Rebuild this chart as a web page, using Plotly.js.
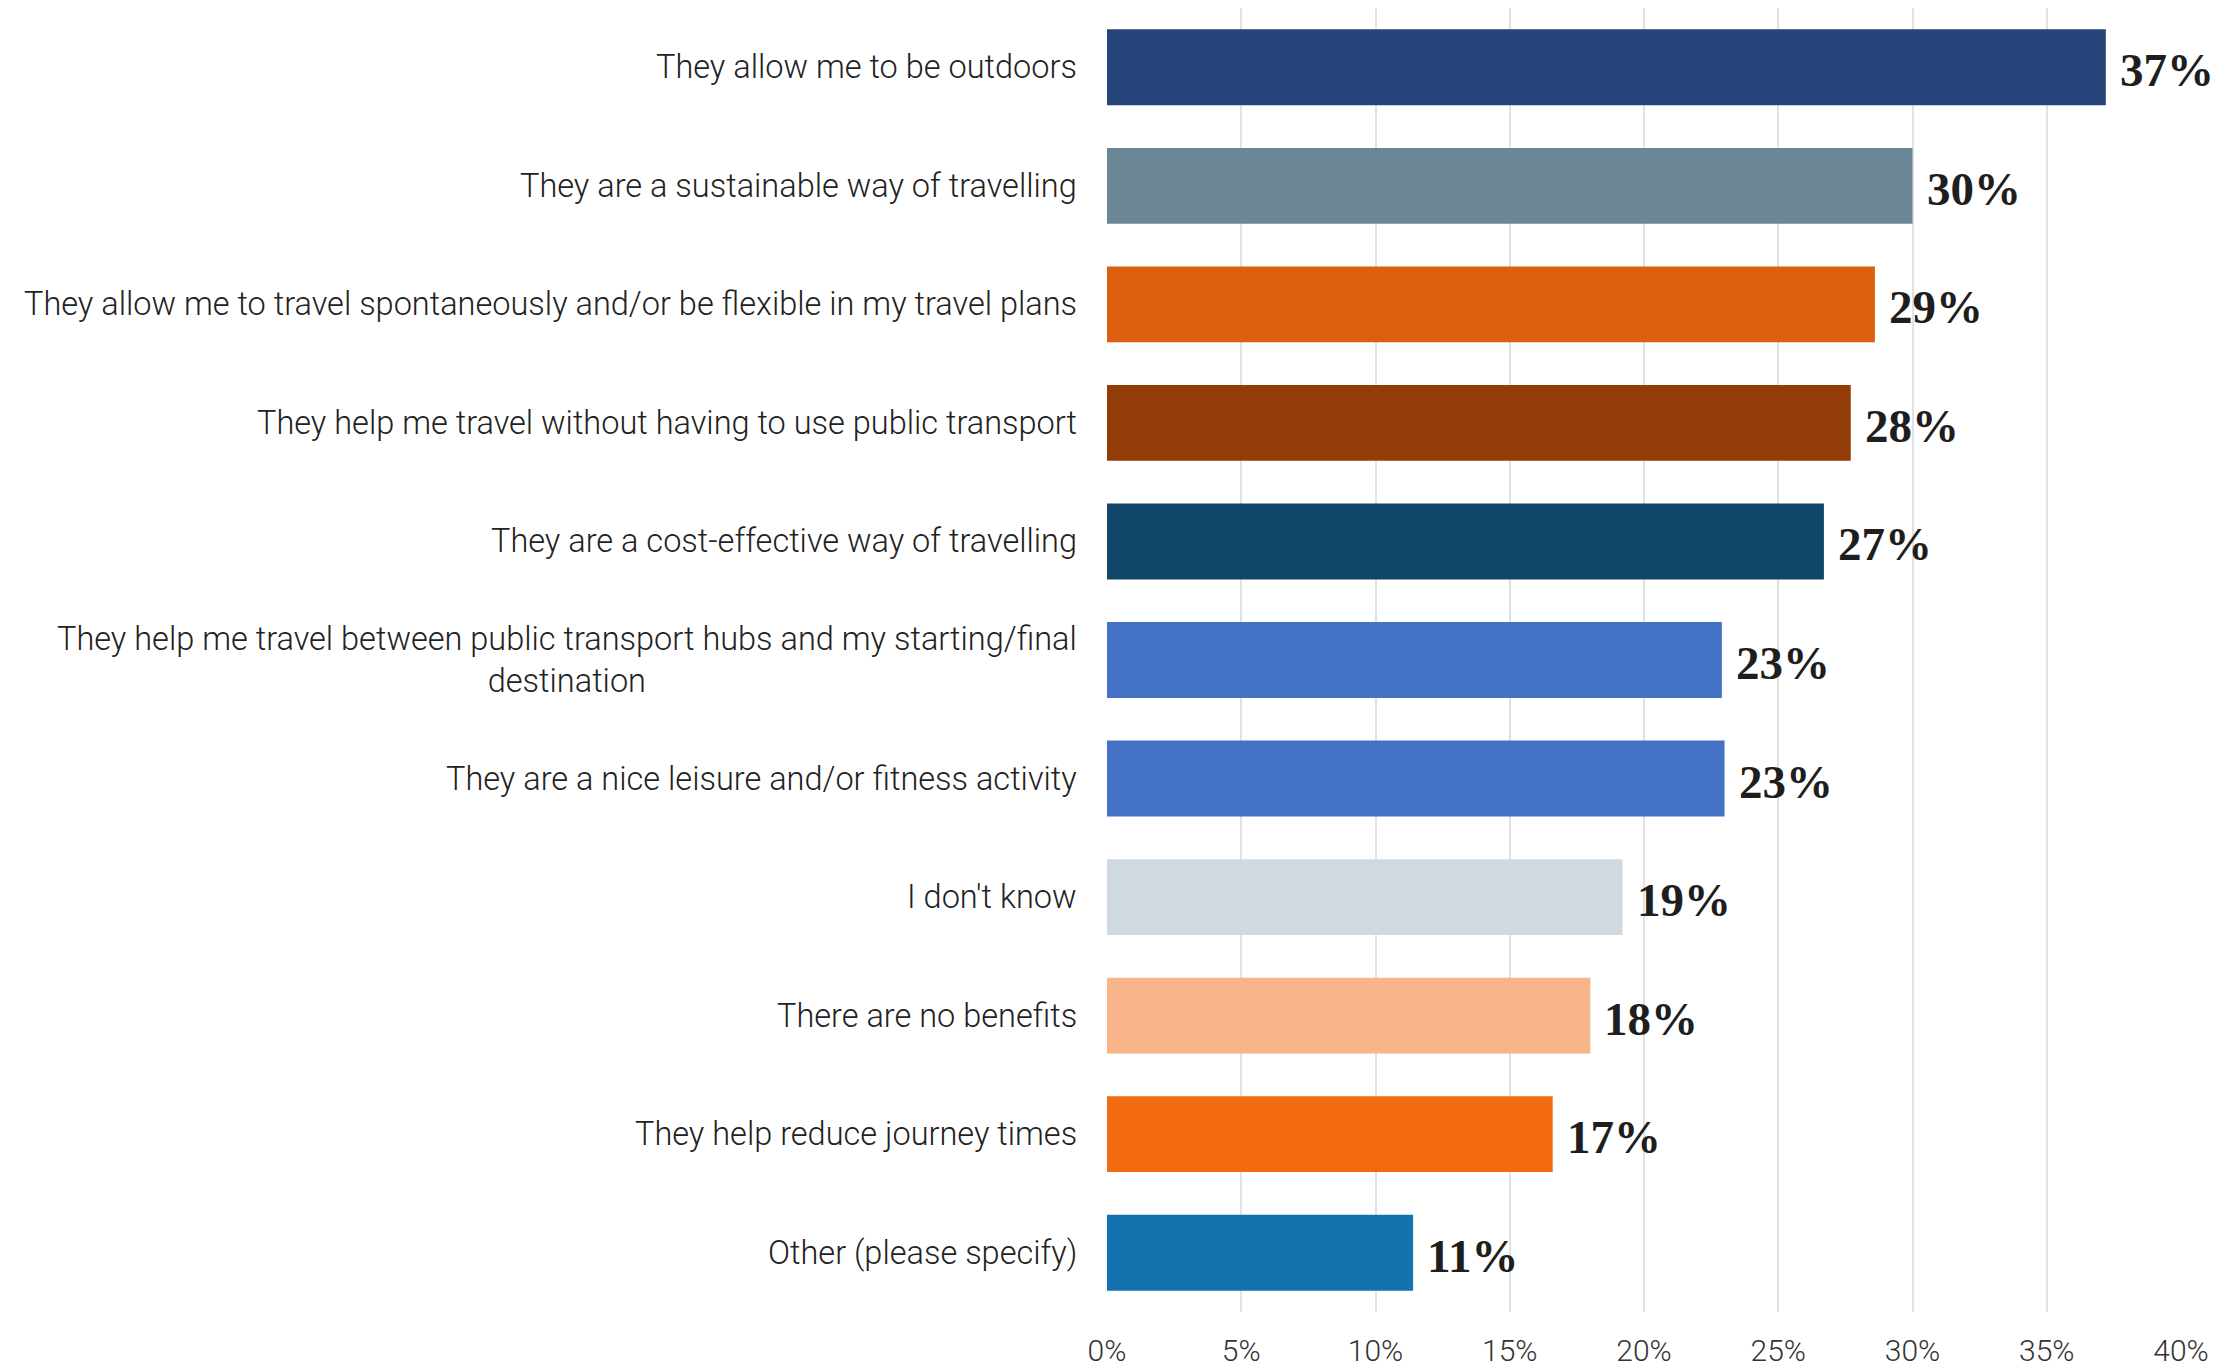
<!DOCTYPE html>
<html>
<head>
<meta charset="utf-8">
<script src="https://cdn.plot.ly/plotly-3.0.1.min.js"></script>
<style>
html,body{margin:0;padding:0;background:#fff;}
#chart{width:2220px;height:1370px;}
</style>
</head>
<body>
<div id="chart"></div>
<script>
const categories = [
  "They allow me to be outdoors",
  "They are a sustainable way of travelling",
  "They allow me to travel spontaneously and/or be flexible in my travel plans",
  "They help me travel without having to use public transport",
  "They are a cost-effective way of travelling",
  "They help me travel between public transport hubs and my starting/final<br>destination",
  "They are a nice leisure and/or fitness activity",
  "I don't know",
  "There are no benefits",
  "They help reduce journey times",
  "Other (please specify)"
];
const values = [37.2, 30.0, 28.6, 27.7, 26.7, 22.9, 23.0, 19.2, 18.0, 16.6, 11.4];
const valueLabels = ["37%", "30%", "29%", "28%", "27%", "23%", "23%", "19%", "18%", "17%", "11%"];
const barColors = ["#26457A", "#6B8797", "#DB5F0E", "#923D08", "#0F4669", "#4472C4", "#4472C4", "#D1D9E0", "#F8B589", "#F26B11", "#1472AE"];
const tickVals = [0, 5, 10, 15, 20, 25, 30, 35, 40];
const tickText = ["0%", "5%", "10%", "15%", "20%", "25%", "30%", "35%", "40%"];

const trace = {
  type: "bar",
  orientation: "h",
  x: values,
  y: categories,
  marker: {color: barColors},
  hoverinfo: "none"
};

const annotations = [];
categories.forEach((c, i) => {
  annotations.push({
    xref: "paper", yref: "y", x: 0, y: c,
    text: c, showarrow: false, xanchor: "right", yanchor: "middle",
    align: "center", xshift: -28,
    font: {family: "Roboto", size: 32.5, color: "#222222", weight: 300}
  });
  annotations.push({
    xref: "x", yref: "y", x: values[i], y: c,
    text: valueLabels[i], showarrow: false, xanchor: "left", yanchor: "middle",
    xshift: 12, yshift: -3,
    font: {family: "Liberation Serif", size: 47, color: "#1e1e1e", weight: 700}
  });
});

const layout = {
  width: 2220, height: 1370,
  margin: {l: 1107, r: 39, t: 8, b: 58},
  paper_bgcolor: "#ffffff", plot_bgcolor: "#ffffff",
  bargap: 0.36,
  showlegend: false,
  xaxis: {
    range: [0, 40], tickvals: tickVals, ticktext: tickText,
    showgrid: true, gridcolor: "#e2e2e2", gridwidth: 2,
    zeroline: false, showline: false, ticks: "",
    ticklabelstandoff: 18,
    tickfont: {family: "Roboto", size: 30, color: "#333333", weight: 300},
    fixedrange: true
  },
  yaxis: {
    autorange: "reversed", showticklabels: false, showgrid: false,
    zeroline: false, showline: false, ticks: "", fixedrange: true
  },
  annotations: annotations
};

Plotly.newPlot("chart", [trace], layout, {displayModeBar: false, staticPlot: true});
</script>
</body>
</html>
